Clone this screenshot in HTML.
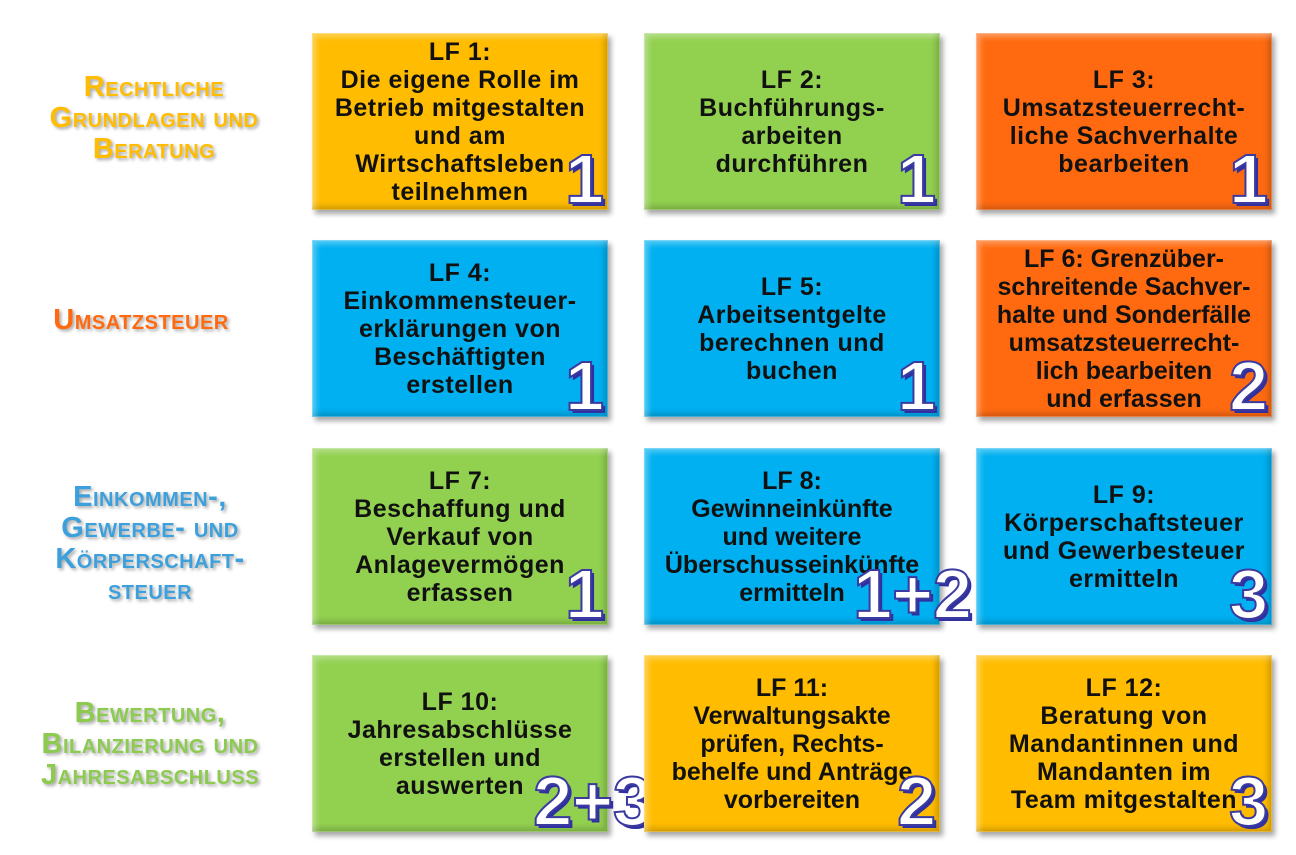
<!DOCTYPE html>
<html><head><meta charset="utf-8"><style>
body{margin:0;width:1296px;height:855px;background:#fff;position:relative;overflow:hidden;font-family:"Liberation Sans",sans-serif}
.b{position:absolute;width:296px;height:177px;box-sizing:border-box;display:flex;align-items:center;justify-content:center;text-align:center;font-weight:bold;font-size:25px;letter-spacing:0.5px;line-height:28px;color:#111;white-space:nowrap;box-shadow:3px 4px 5px rgba(0,0,0,.35), inset 0 0 0 1px rgba(255,255,255,.25), inset 6px 6px 6px -2px rgba(255,255,255,.35), inset -6px -6px 6px -2px rgba(0,0,0,.18)}
.y{background:#FFBC00}.g{background:#92D050}.o{background:#FF6A10}.c{background:#00B0F0}
.n{position:absolute;right:4px;bottom:-4px;font-size:70px;line-height:70px;font-weight:bold;letter-spacing:0;color:#fff;-webkit-text-stroke:2px #3a3aa0;text-shadow:3px 3px 0 #3030a0}
.l{position:absolute;text-align:center;font-weight:bold;font-variant:small-caps;font-size:29px;letter-spacing:0.5px;line-height:31px;text-shadow:2px 2px 3px rgba(0,0,0,.35)}
</style></head><body>
<div class="l" style="left:0;width:308px;top:72px;color:#FFBC00">Rechtliche<br>Grundlagen und<br>Beratung</div>
<div class="l" style="left:0;width:282px;top:305px;color:#FF6A10">Umsatzsteuer</div>
<div class="l" style="left:0;width:300px;top:482px;color:#3BA0DC">Einkommen-,<br>Gewerbe- und<br>Körperschaft-<br>steuer</div>
<div class="l" style="left:0;width:300px;top:698px;color:#8CCB50">Bewertung,<br>Bilanzierung und<br>Jahresabschluss</div>

<div class="b y" style="left:312px;top:33px">LF 1:<br>Die eigene Rolle im<br>Betrieb mitgestalten<br>und am<br>Wirtschaftsleben<br>teilnehmen<span class="n">1</span></div>
<div class="b g" style="left:644px;top:33px">LF 2:<br>Buchführungs-<br>arbeiten<br>durchführen<span class="n">1</span></div>
<div class="b o" style="left:976px;top:33px">LF 3:<br>Umsatzsteuerrecht-<br>liche Sachverhalte<br>bearbeiten<span class="n">1</span></div>

<div class="b c" style="left:312px;top:240px">LF 4:<br>Einkommensteuer-<br>erklärungen von<br>Beschäftigten<br>erstellen<span class="n">1</span></div>
<div class="b c" style="left:644px;top:240px">LF 5:<br>Arbeitsentgelte<br>berechnen und<br>buchen<span class="n">1</span></div>
<div class="b o" style="left:976px;top:240px;letter-spacing:0">LF 6: Grenzüber-<br>schreitende Sachver-<br>halte und Sonderfälle<br>umsatzsteuerrecht-<br>lich bearbeiten<br>und erfassen<span class="n">2</span></div>

<div class="b g" style="left:312px;top:448px">LF 7:<br>Beschaffung und<br>Verkauf von<br>Anlagevermögen<br>erfassen<span class="n">1</span></div>
<div class="b c" style="left:644px;top:448px;letter-spacing:0">LF 8:<br>Gewinneinkünfte<br>und weitere<br>Überschusseinkünfte<br>ermitteln<span class="n" style="right:-32px">1+2</span></div>
<div class="b c" style="left:976px;top:448px">LF 9:<br>Körperschaftsteuer<br>und Gewerbesteuer<br>ermitteln<span class="n">3</span></div>

<div class="b g" style="left:312px;top:655px">LF 10:<br>Jahresabschlüsse<br>erstellen und<br>auswerten<span class="n" style="right:-44px">2+3</span></div>
<div class="b y" style="left:644px;top:655px;letter-spacing:0">LF 11:<br>Verwaltungsakte<br>prüfen, Rechts-<br>behelfe und Anträge<br>vorbereiten<span class="n">2</span></div>
<div class="b y" style="left:976px;top:655px">LF 12:<br>Beratung von<br>Mandantinnen und<br>Mandanten im<br>Team mitgestalten<span class="n">3</span></div>
</body></html>
